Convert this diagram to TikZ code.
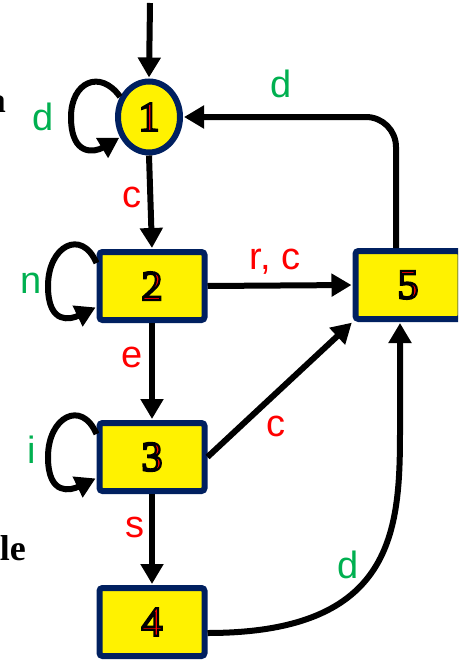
\documentclass[tikz,border=0pt]{standalone}
\usepackage{fontspec}
\setmainfont{Liberation Serif}
\newfontfamily\lblfont{Liberation Sans}
\usetikzlibrary{arrows.meta,shapes.geometric}
\definecolor{navy}{HTML}{002060}
\definecolor{lblgreen}{HTML}{00B050}
\definecolor{lblred}{HTML}{FF0000}
\newcommand\dig[1]{\textcolor{red}{\special{pdf:literal direct 0 0 0 RG 2 Tr 2.2 w}#1\special{pdf:literal direct 0 Tr}}}
\begin{document}
\begin{tikzpicture}[x=1pt,y=-1pt,
  state/.style={draw=navy, line width=6pt, fill=yellow, rounded corners=3pt,
    minimum width=105pt, minimum height=68pt, inner sep=0pt,
    font=\fontsize{42}{44}\selectfont},
  startstate/.style={ellipse, draw=navy, line width=6pt, fill=yellow,
    minimum width=62pt, minimum height=71pt, inner sep=0pt,
    font=\fontsize{42}{44}\selectfont},
  edge/.style={line width=6pt, -{Triangle[length=20pt,width=22pt]}, shorten >=1pt},
  glab/.style={text=lblgreen, font=\lblfont\fontsize{38}{40}\selectfont, inner sep=0pt, anchor=base},
  rlab/.style={text=lblred, font=\lblfont\fontsize{38}{40}\selectfont, inner sep=0pt, anchor=base},
  frag/.style={font=\bfseries\fontsize{36}{38}\selectfont, inner sep=0pt, anchor=base east}]
\useasboundingbox (0,0) rectangle (458,661);
\clip (0,0) rectangle (458,661);

% fragments of surrounding text
\node[frag] (fa) at (6,112) {a};
\node[frag] (fle) at (26,560) {le};

% states
\node[startstate] (n1) at (149,117) {\dig{1}};
\node[state] (n2) at (152,286) {\dig{2}};
\node[state] (n3) at (152,457) {\dig{3}};
\node[state] (n4) at (152,622) {\dig{4}};
\node[state] (n5) at (408,285) {\dig{5}};
\coordinate (init) at (150,3);

% transitions
\draw[edge] (init) -- (n1.north);
\draw[edge] (n1.south) -- (n2.north);
\draw[edge] (n2.south) -- (n3.north);
\draw[edge] (n3.south) -- (n4.north);
\draw[edge] (n2.east) -- (n5.west);
\draw[edge] (n3.east) -- (n5.south west);
\draw[edge, rounded corners=30pt] ([xshift=-12pt]n5.north) |- (n1.east);
\draw[edge] ([yshift=-11pt]n4.east) .. controls (395,633) and (400,530) .. (400,430) -- ([xshift=-8pt]n5.south);

% self loops
\draw[edge] (n1.145) .. controls +(-20,-28) and +(0,-35) .. ([xshift=-78pt]n1.center)
  .. controls +(0,40) and +(-25,15) .. (n1.215);
\draw[edge] ([yshift=23pt]n2.west) .. controls +(-15,-35) and +(0,-40) .. ([xshift=-104pt]n2.center)
  .. controls +(0,40) and +(-25,12) .. ([yshift=-21pt]n2.west);
\draw[edge] ([yshift=23pt]n3.west) .. controls +(-15,-35) and +(0,-40) .. ([xshift=-104pt]n3.center)
  .. controls +(0,40) and +(-25,12) .. ([yshift=-21pt]n3.west);

% labels
\node[glab] (l11) at (43,130) {d};
\node[rlab] (l12) at (132,207) {c};
\node[glab] (l22) at (31,293) {n};
\node[rlab] (l23) at (132,367) {e};
\node[glab] (l33) at (32,463) {i};
\node[rlab] (l34) at (135,537) {s};
\node[glab] (l51) at (281,97) {d};
\node[rlab] (l25) at (275,269) {r, c};
\node[rlab] (l35) at (276,436) {c};
\node[glab] (l45) at (348,578) {d};
\end{tikzpicture}
\end{document}
